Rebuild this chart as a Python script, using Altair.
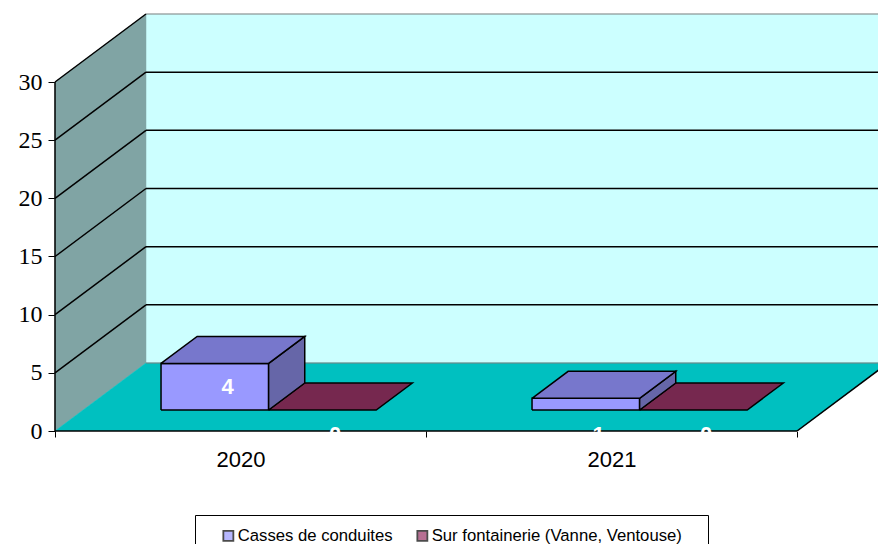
import altair as alt
import pandas as pd

# ---------------- data ----------------
categories = ["2020", "2021"]
series_names = ["Casses de conduites", "Sur fontainerie (Vanne, Ventouse)"]
casses = [4, 1]
fontainerie = [0, 0]
y_ticks = [0, 5, 10, 15, 20, 25, 30]

series_values = [casses, fontainerie]

# ---------------- style ----------------
front_colors = ["#9999FF", "#993366"]
top_colors = ["#7777CC", "#76284F"]
side_colors = ["#6666A8", "#5C1F3D"]
WALL_BACK = "#CCFFFF"
WALL_SIDE = "#80A4A4"
FLOOR = "#00C0C0"

# projection of the pseudo-3D box (category units / value units)
Y_TOP = max(y_ticks)
DX = 91 / 371           # depth shift along x (category units)
DY = 68 / (349 / 30)    # depth shift along y (value units)
X_MAX = 823 / 371       # visible x extent
D0, D1 = 0.309, 0.706   # bar depth span
GAP, BW = 0.21, 0.29    # gap before bars, bar width (category units)
LABEL_DEPTH = 0.45
N = len(categories)


def proj(x, v, d):
    return x + d * DX, v + d * DY


def build_polys(polys):
    rows = []
    for pid, pts in enumerate(polys):
        pts = list(pts) + [pts[0]]
        for i, (x, v, d) in enumerate(pts):
            px, py = proj(x, v, d)
            rows.append({"pid": pid, "seq": i, "x": px, "y": py})
    return pd.DataFrame(rows)


def build_lines(segs):
    rows = []
    for pid, (a, b) in enumerate(segs):
        for i, p in enumerate((a, b)):
            px, py = proj(*p)
            rows.append({"pid": pid, "seq": i, "x": px, "y": py})
    return pd.DataFrame(rows)


xs = alt.Scale(domain=[0, X_MAX], nice=False, zero=False)
ys = alt.Scale(domain=[0, Y_TOP + DY], nice=False, zero=False)

label_expr = " : ".join(
    [f"datum.value == {i + 0.5} ? '{c}'" for i, c in enumerate(categories)] + ["''"]
)
x_axis = alt.Axis(
    values=[v / 2 for v in range(2 * N + 1)],
    labelExpr=label_expr,
    tickOpacity={"condition": {"test": "datum.value % 1 != 0", "value": 0}, "value": 1},
    tickSize=6, tickColor="black", tickWidth=1,
    domain=False, grid=False, title=None,
    labelFont="Liberation Sans", labelFontSize=22, labelColor="black",
    labelPadding=12, labelFlush=False, labelOverlap=False,
)
y_axis = alt.Axis(
    values=y_ticks, tickSize=7, tickColor="black", tickWidth=1,
    domain=False, grid=False, title=None,
    labelFont="Liberation Serif", labelFontSize=24, labelColor="black",
    labelPadding=6, labelFlush=False, labelOverlap=False,
)

X = alt.X("x:Q", scale=xs, axis=x_axis)
Y = alt.Y("y:Q", scale=ys, axis=y_axis)


def poly_layer(df, fill, stroke=None, sw=0, clip=False):
    kw = dict(fill=fill, strokeWidth=sw, clip=clip, strokeJoin="miter")
    kw["stroke"] = stroke if stroke else fill
    if not stroke:
        kw["strokeWidth"] = 0.5
    return alt.Chart(df).mark_line(**kw).encode(
        x=X, y=Y, detail="pid:N", order="seq:Q",
    )


def line_layer(df, color, sw, clip=False):
    return alt.Chart(df).mark_line(color=color, strokeWidth=sw, clip=clip).encode(
        x=X, y=Y, detail="pid:N", order="seq:Q",
    )


# legend carrier (hidden under the side wall)
legend_df = pd.DataFrame({"series": series_names, "x": [0.05] * 2, "y": [10] * 2})
legend_layer = alt.Chart(legend_df).mark_square(
    size=0, filled=True, stroke="black", strokeWidth=1.5
).encode(
    x=X,
    y=Y,
    fill=alt.Fill(
        "series:N",
        scale=alt.Scale(domain=series_names, range=front_colors),
        legend=alt.Legend(
            title=" ", titleOrient="right", titlePadding=14,
            orient="none", legendX=140, legendY=501,
            direction="horizontal", symbolType="square", symbolSize=100,
            symbolOffset=13,
            symbolStrokeColor="black", symbolStrokeWidth=1.8,
            labelFont="Liberation Sans", labelFontSize=16.7, labelColor="black",
            labelLimit=500, labelOffset=1, columnPadding=8,
            strokeColor="black", fillColor="white", padding=12,
        ),
    ),
)

# walls & floor
back = build_polys([[(0, 0, 1), (X_MAX - DX, 0, 1), (X_MAX - DX, Y_TOP, 1), (0, Y_TOP, 1)]])
side = build_polys([[(0, 0, 0), (0, 0, 1), (0, Y_TOP, 1), (0, Y_TOP, 0)]])
floor = build_polys([[(0, 0, 0), (N, 0, 0), (N, 0, 1), (0, 0, 1)]])

gray_lines = build_lines([((0, 0, 1), (X_MAX - DX, 0, 1)), ((0, Y_TOP, 1), (X_MAX - DX, Y_TOP, 1))])
back_grid = build_lines([((0, v, 1), (X_MAX - DX, v, 1)) for v in y_ticks if 0 < v < Y_TOP])
side_grid = build_lines(
    [((0, v, 0), (0, v, 1)) for v in y_ticks if v > 0]
    + [((0, 0, 0), (0, Y_TOP, 0)), ((0, 0, 0), (N, 0, 0))]
)
floor_edge = build_lines([((N, 0, 0), (N, 0, 1))])

# bars
bar_layers = []
order = [1, 0]  # draw the flat series first, then the blue boxes
for s in order:
    fronts, tops, sides = [], [], []
    for c in range(N):
        v = series_values[s][c]
        x0 = c + GAP + s * BW
        x1 = x0 + BW
        tops.append([(x0, v, D0), (x1, v, D0), (x1, v, D1), (x0, v, D1)])
        if v > 0:
            fronts.append([(x0, 0, D0), (x1, 0, D0), (x1, v, D0), (x0, v, D0)])
            sides.append([(x1, 0, D0), (x1, 0, D1), (x1, v, D1), (x1, v, D0)])
    if fronts:
        bar_layers.append(poly_layer(build_polys(fronts), front_colors[s], "black", 1.5))
    if sides:
        bar_layers.append(poly_layer(build_polys(sides), side_colors[s], "black", 1.5))
    bar_layers.append(poly_layer(build_polys(tops), top_colors[s], "black", 1.5))

labels = []
for s in range(len(series_names)):
    for c in range(N):
        v = series_values[s][c]
        xc = c + GAP + s * BW + BW / 2
        lx, _ = proj(xc, 0, LABEL_DEPTH)
        _, ly = proj(xc, v / 2, D0) if v >= 2 else proj(xc, -0.35, 0)
        labels.append({"x": lx, "y": ly, "text": str(v)})
labels_df = pd.DataFrame(labels)
label_layer = alt.Chart(labels_df).mark_text(
    color="white", font="Liberation Sans", fontWeight="bold", fontSize=22, baseline="middle"
).encode(x=X, y=Y, text="text:N")

chart = alt.layer(
    legend_layer,
    poly_layer(back, WALL_BACK),
    poly_layer(side, WALL_SIDE),
    poly_layer(floor, FLOOR, clip=True),
    line_layer(gray_lines, "#7F7F7F", 1.2),
    line_layer(back_grid, "black", 1.5),
    line_layer(side_grid, "black", 1.5),
    line_layer(floor_edge, "black", 1.5, clip=True),
    *bar_layers,
    label_layer,
).properties(
    width=823,
    height=417,
    padding={"left": 55, "top": 14, "right": 0, "bottom": 113},
    autosize=alt.AutoSizeParams(type="none"),
).configure_view(stroke=None)

chart.save("out.html", embed_options={"renderer": "svg", "actions": False})
